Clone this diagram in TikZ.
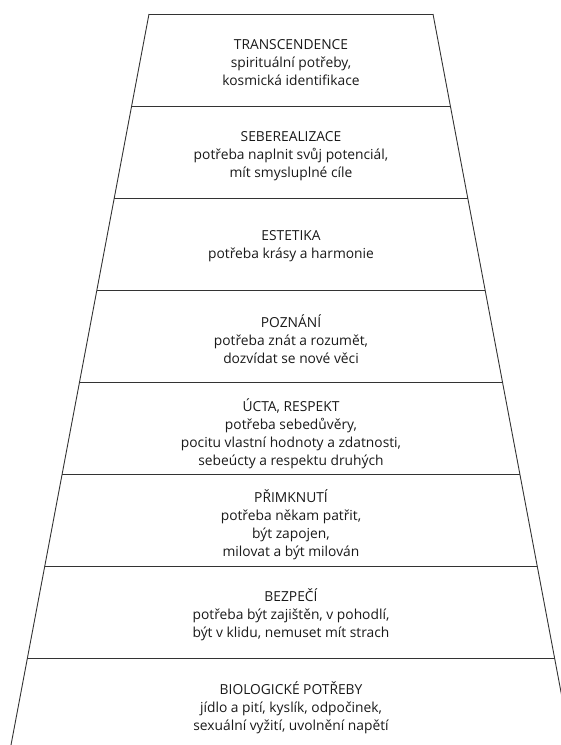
\documentclass[tikz,border=0pt]{standalone}
\usepackage{fontspec}
\setmainfont{Open Sans}
\tikzset{
  level/.style={align=center, text=black!90, font=\fontsize{13.8}{18}\selectfont},
  stair/.style={draw=black!80, line width=0.9pt}
}
\begin{document}
\begin{tikzpicture}[x=1pt,y=-1pt]
\useasboundingbox (0,0) rectangle (561,745);
\clip (0,0) rectangle (561,745);
% outline of the pyramid
\draw[stair] (149,14) -- (433,14);
\draw[stair] (149,14) -- (11,745);
\draw[stair] (433,14) -- (571,745);
% steps
\draw[stair] (131.6,106) -- (450.4,106);
\draw[stair] (114.3,198) -- (467.7,198);
\draw[stair] (96.9,290) -- (485.1,290);
\draw[stair] (79.5,382) -- (502.5,382);
\draw[stair] (62.2,474) -- (519.8,474);
\draw[stair] (44.8,566) -- (537.2,566);
\draw[stair] (27.4,658) -- (554.6,658);

\draw (291,63)node[level] (transc){TRANSCENDENCE\\ spirituální potřeby,\\ kosmická identifikace};
\draw (291,156)node[level] (seberea){SEBEREALIZACE\\ potřeba naplnit svůj potenciál,\\ mít smysluplné cíle};
\draw (291,246)node[level] (estetika){ESTETIKA\\ potřeba krásy a harmonie};
\draw (291,339)node[level] (poznani){POZNÁNÍ\\ potřeba znát a rozumět,\\ dozvídat se nové věci};
\draw (291,434)node[level] (ucta){ÚCTA, RESPEKT\\ potřeba sebedůvěry,\\ pocitu vlastní hodnoty a zdatnosti,\\ sebeúcty a respektu druhých};
\draw (291,525)node[level] (primknuti){PŘIMKNUTÍ\\ potřeba někam patřit,\\ být zapojen,\\ milovat a být milován};
\draw (291,615)node[level] (bezpeci){BEZPEČÍ\\ potřeba být zajištěn, v pohodlí,\\ být v klidu, nemuset mít strach};
\draw (291,708)node[level] (biolog){BIOLOGICKÉ POTŘEBY\\ jídlo a pití, kyslík, odpočinek,\\ sexuální vyžití, uvolnění napětí};
\end{tikzpicture}
\end{document}
